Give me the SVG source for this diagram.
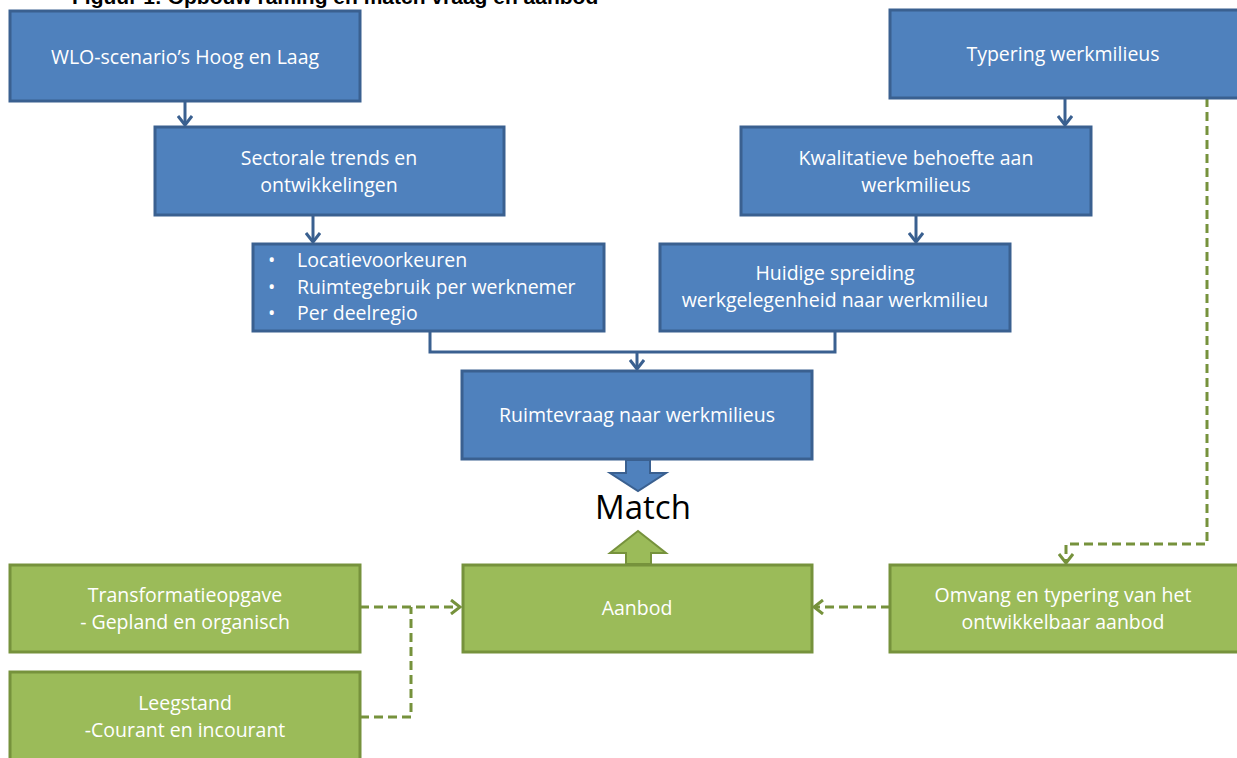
<svg xmlns="http://www.w3.org/2000/svg" width="1237" height="758" viewBox="0 0 1237 758">
<defs>
<style>
.b{fill:#4F81BD;stroke:#3A6090;stroke-width:3}
.g{fill:#9BBB59;stroke:#76923C;stroke-width:3}
.t{font-family:"Open Sans","Liberation Sans",sans-serif;font-size:19.5px;fill:#FFFFFF;text-anchor:middle}
.tl{font-family:"Open Sans","Liberation Sans",sans-serif;font-size:19.5px;fill:#FFFFFF}
.bc{fill:none;stroke:#3A6090;stroke-width:3}
.gc{fill:none;stroke:#76923C;stroke-width:3;stroke-dasharray:9,5}
</style>
<marker id="ab" markerWidth="16" markerHeight="16" refX="11" refY="8" orient="auto" markerUnits="userSpaceOnUse">
<path d="M2,1 L11,8 L2,15" fill="none" stroke="#3A6090" stroke-width="3"/>
</marker>
<marker id="ag" markerWidth="16" markerHeight="16" refX="11" refY="8" orient="auto" markerUnits="userSpaceOnUse">
<path d="M2,1 L11,8 L2,15" fill="none" stroke="#76923C" stroke-width="3"/>
</marker>
</defs>
<rect width="1237" height="758" fill="#FFFFFF"/>
<text x="72" y="4" font-family="Liberation Sans,Arial,sans-serif" font-size="21" font-weight="bold" fill="#000">Figuur 1: Opbouw raming en match vraag en aanbod</text>

<g id="connectors">
<line class="bc" x1="185" y1="101" x2="185" y2="125" marker-end="url(#ab)"/>
<line class="bc" x1="313" y1="215" x2="313" y2="242" marker-end="url(#ab)"/>
<line class="bc" x1="1065" y1="98" x2="1065" y2="125" marker-end="url(#ab)"/>
<line class="bc" x1="916" y1="215" x2="916" y2="242" marker-end="url(#ab)"/>
<polyline class="bc" points="430,331 430,352 835,352 835,331"/>
<line class="bc" x1="637" y1="352" x2="637" y2="369" marker-end="url(#ab)"/>
<path d="M626,460 L650,460 L650,473 L666,473 L638,491 L610,473 L626,473 Z" fill="#4F81BD" stroke="#3A6090" stroke-width="2"/>
<path d="M626,564 L651,564 L651,553 L666,553 L638,531 L610,553 L626,553 Z" fill="#9BBB59" stroke="#76923C" stroke-width="2"/>
<polyline class="gc" points="1207,98 1207,544 1066,544 1066,563" marker-end="url(#ag)"/>
<line class="gc" x1="890" y1="607" x2="814" y2="607" marker-end="url(#ag)"/>
<line class="gc" x1="360" y1="607" x2="460" y2="607" marker-end="url(#ag)"/>
<polyline class="gc" points="360,717 411,717 411,607"/>
</g>

<g id="n-wlo"><rect class="b" x="10" y="11" width="350" height="90"/><text class="t" x="185" y="64">WLO-scenario’s Hoog en Laag</text></g>
<g id="n-typering"><rect class="b" x="890" y="10" width="350" height="88"/><text class="t" x="1063" y="61">Typering werkmilieus</text></g>
<g id="n-sectorale"><rect class="b" x="155" y="127" width="349" height="88"/><text class="t" x="329" y="165">Sectorale trends en</text><text class="t" x="329" y="192">ontwikkelingen</text></g>
<g id="n-kwalitatieve"><rect class="b" x="741" y="127" width="350" height="88"/><text class="t" x="916" y="165">Kwalitatieve behoefte aan</text><text class="t" x="916" y="192">werkmilieus</text></g>
<g id="n-bullets"><rect class="b" x="253" y="244" width="351" height="87"/>
<text class="tl" x="268" y="267">•</text><text class="tl" x="297" y="267">Locatievoorkeuren</text>
<text class="tl" x="268" y="294">•</text><text class="tl" x="297" y="294">Ruimtegebruik per werknemer</text>
<text class="tl" x="268" y="320">•</text><text class="tl" x="297" y="320">Per deelregio</text></g>
<g id="n-huidige"><rect class="b" x="660" y="244" width="350" height="87"/><text class="t" x="835" y="280">Huidige spreiding</text><text class="t" x="835" y="307">werkgelegenheid  naar werkmilieu</text></g>
<g id="n-ruimtevraag"><rect class="b" x="462" y="371" width="350" height="88"/><text class="t" x="637" y="422">Ruimtevraag naar werkmilieus</text></g>
<g id="n-match"><text x="643" y="519" font-family="Open Sans,Liberation Sans,sans-serif" font-size="33" fill="#000" text-anchor="middle">Match</text></g>
<g id="n-aanbod"><rect class="g" x="463" y="565" width="349" height="87"/><text class="t" x="637" y="615">Aanbod</text></g>
<g id="n-transformatie"><rect class="g" x="10" y="565" width="350" height="87"/><text class="t" x="185" y="602">Transformatieopgave</text><text class="t" x="185" y="629">- Gepland en organisch</text></g>
<g id="n-leegstand"><rect class="g" x="10" y="672" width="350" height="95"/><text class="t" x="185" y="710">Leegstand</text><text class="t" x="185" y="737">-Courant en incourant</text></g>
<g id="n-omvang"><rect class="g" x="890" y="565" width="350" height="87"/><text class="t" x="1063" y="602">Omvang en typering van het</text><text class="t" x="1063" y="629">ontwikkelbaar aanbod</text></g>
</svg>
